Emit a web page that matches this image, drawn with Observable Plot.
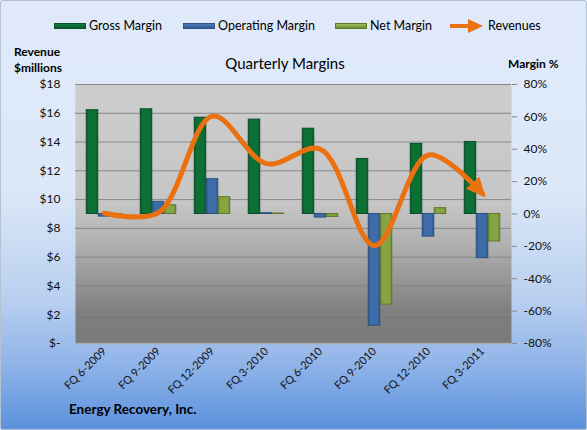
<!DOCTYPE html>
<html><head><meta charset="utf-8">
<script src="https://cdn.jsdelivr.net/npm/d3@7"></script>
<script src="https://cdn.jsdelivr.net/npm/@observablehq/plot@0.6"></script>
<style>
body{margin:0;background:#fff;}
#chart{position:relative;width:587px;height:430px;box-sizing:border-box;border-radius:3px;
  background:linear-gradient(to bottom,#dfe9f9 0%,#dce8f8 44%,#b8cfef 70%,#8fb3e8 85%,#5a91dd 100%);
  box-shadow:inset 0 0 0 1px #b4c2d2;font-family:Lato,"Open Sans",sans-serif;overflow:hidden;color:#000;}
#chart svg.plot{position:absolute;left:0;top:0;}
.t{position:absolute;white-space:nowrap;line-height:1;transform:translateY(-50%);}
.sw{position:absolute;height:6px;width:32px;transform:translateY(-50%);box-sizing:border-box;}
</style></head>
<body>
<div id="chart">
  <div class="sw" style="left:54px;top:26px;background:linear-gradient(#0d7d3c,#0a5c2c);border:1px solid #0a4f26;"></div>
  <div class="t" style="left:89px;top:26px;font-size:12.5px;">Gross Margin</div>
  <div class="sw" style="left:183px;top:26px;background:linear-gradient(#4a7bb8,#2f5a92);border:1px solid #2d5180;"></div>
  <div class="t" style="left:218px;top:26px;font-size:12.5px;">Operating Margin</div>
  <div class="sw" style="left:335px;top:26px;background:linear-gradient(#9dbb55,#6f8c34);border:1px solid #5f7a2c;"></div>
  <div class="t" style="left:370px;top:26px;font-size:12.5px;">Net Margin</div>
  <svg style="position:absolute;left:450px;top:18px;" width="34" height="16">
    <line x1="1" y1="8" x2="22" y2="8" stroke="#ea7010" stroke-width="4" stroke-linecap="round"/>
    <path d="M18,1L33,8L18,15Z" fill="#ea7010"/>
  </svg>
  <div class="t" style="left:488px;top:26px;font-size:12.5px;">Revenues</div>
  <div class="t" style="left:14px;top:52px;font-size:12px;font-weight:bold;">Revenue</div>
  <div class="t" style="left:14px;top:68px;font-size:12px;font-weight:bold;">$millions</div>
  <div class="t" style="left:285px;top:63px;font-size:15px;transform:translate(-50%,-50%);">Quarterly Margins</div>
  <div class="t" style="left:508px;top:64px;font-size:12px;font-weight:bold;">Margin %</div>
  <div class="t" style="left:69px;top:410px;font-size:13.5px;font-weight:bold;">Energy Recovery, Inc.</div>
</div>
<script>
// ---- data ----
const quarters = ["FQ 6-2009","FQ 9-2009","FQ 12-2009","FQ 3-2010","FQ 6-2010","FQ 9-2010","FQ 12-2010","FQ 3-2011"];
const grossMargin = [64.1, 64.7, 59.5, 58.3, 52.7, 34.0, 43.3, 44.5];       // %
const operatingMargin = [-1.6, 7.5, 21.5, 0.5, -2.2, -69.0, -14.0, -27.3];  // %
const netMargin = [-1.0, 5.4, 10.4, 0.3, -1.8, -56.0, 3.6, -17.0];           // %
const revenues = [9.05, 9.1, 15.8, 12.5, 13.5, 6.8, 13.1, 10.4];            // $ millions
const revenueTicks = [0, 2, 4, 6, 8, 10, 12, 14, 16, 18];
const marginTicks = [-80, -60, -40, -20, 0, 20, 40, 60, 80];
const seriesNames = ["Gross Margin", "Operating Margin", "Net Margin"];

// ---- layout / style ----
const W = 587, H = 430, mL = 75, mR = 76, mT = 84, mB = 87;
const ORANGE = "#ea7010";
const revMax = 18, pctMax = 80;
const pctToRev = p => revMax / 2 + p * (revMax / 2) / pctMax;
const revToPct = r => (r - revMax / 2) * pctMax / (revMax / 2);
const bandW = (W - mL - mR) / quarters.length;
const barW = 12;
const inset = (bandW - barW) / 2;

const seriesVals = [grossMargin, operatingMargin, netMargin];
const seriesFill = ["url(#gGross)", "url(#gOper)", "url(#gNet)"];
const seriesStroke = ["#0a4f26", "#2b4f7e", "#5d782b"];

const barMarks = seriesVals.map((vals, i) =>
  Plot.barY(quarters.map((q, j) => ({quarter: q, series: seriesNames[i], v: vals[j]})), {
    x: "quarter",
    y1: () => pctToRev(0),
    y2: d => pctToRev(d.v),
    fill: seriesFill[i],
    stroke: seriesStroke[i],
    strokeWidth: 1,
    insetLeft: inset, insetRight: inset,
    dx: (i - 1) * barW
  })
);

const revData = quarters.map((q, j) => ({quarter: q, rev: revenues[j]}));

const chart = Plot.plot({
  width: W, height: H,
  marginLeft: mL, marginRight: mR, marginTop: mT, marginBottom: mB,
  style: {background: "transparent", fontFamily: "Lato, 'Open Sans', sans-serif", fontSize: "12px", color: "#111", overflow: "visible"},
  x: {domain: quarters, padding: 0, axis: null, label: null},
  y: {domain: [0, revMax], axis: null, label: null},
  marks: [
    Plot.frame({fill: "url(#pg)", stroke: "none"}),
    Plot.ruleY(revenueTicks.filter(d => d > 0), {stroke: "#878787", strokeWidth: 1}),
    ...barMarks,
    Plot.ruleY([0], {stroke: "#a9a9a9", strokeWidth: 1.5}),
    Plot.line(revData, {x: "quarter", y: "rev", curve: "catmull-rom", stroke: ORANGE, strokeWidth: 5, strokeLinecap: "round", strokeLinejoin: "round"}),
    Plot.axisY({anchor: "left", ticks: revenueTicks, tickSize: 0, tickPadding: 15, fontSize: 12, label: null,
      tickFormat: d => d === 0 ? "$-" : "$" + d}),
    Plot.axisY({anchor: "right", ticks: marginTicks.map(pctToRev), tickSize: 5, tickPadding: 7, fontSize: 12, stroke: "#868686", label: null,
      tickFormat: d => Math.round(revToPct(d)) + "%"}),
    Plot.axisX({tickRotate: -45, tickSize: 0, tickPadding: 6, fontSize: 11, label: null})
  ]
});
chart.classList.add("plot");

// gradients & arrow marker
const svg = d3.select(chart);
const defs = svg.insert("defs", ":first-child");
function vgrad(id, stops) {
  const g = defs.append("linearGradient").attr("id", id).attr("x1", 0).attr("y1", 0).attr("x2", 0).attr("y2", 1);
  stops.forEach(([o, c]) => g.append("stop").attr("offset", o).attr("stop-color", c));
}
function hgrad(id, stops) {
  const g = defs.append("linearGradient").attr("id", id).attr("x1", 0).attr("y1", 0).attr("x2", 1).attr("y2", 0);
  stops.forEach(([o, c]) => g.append("stop").attr("offset", o).attr("stop-color", c));
}
vgrad("pg", [[0, "#cdcdcd"], [0.45, "#c6c6c6"], [0.62, "#b0b0b0"], [0.88, "#7e7e7e"], [1, "#7a7a7a"]]);
hgrad("gGross", [[0, "#0a5429"], [0.2, "#0c7035"], [0.8, "#0c7035"], [1, "#0a5429"]]);
hgrad("gOper", [[0, "#2f5689"], [0.2, "#3d6ca8"], [0.8, "#3d6ca8"], [1, "#2f5689"]]);
hgrad("gNet", [[0, "#6a8832"], [0.2, "#86a444"], [0.8, "#86a444"], [1, "#6a8832"]]);
defs.append("marker").attr("id", "arr").attr("markerUnits", "userSpaceOnUse")
  .attr("viewBox", "0 -9 20 18").attr("refX", 15).attr("refY", 0)
  .attr("markerWidth", 20).attr("markerHeight", 18).attr("orient", "auto")
  .append("path").attr("d", "M0,-9L20,0L0,9Z").attr("fill", ORANGE);
svg.selectAll("g[aria-label=line] path").attr("marker-end", "url(#arr)");

document.getElementById("chart").appendChild(chart);
</script>
</body></html>
